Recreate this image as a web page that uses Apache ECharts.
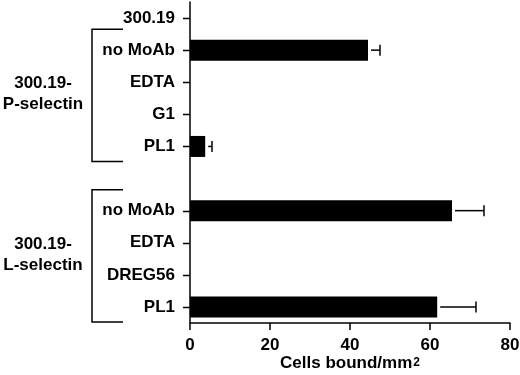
<!DOCTYPE html>
<html>
<head>
<meta charset="utf-8">
<script src="https://cdn.jsdelivr.net/npm/echarts@6/dist/echarts.min.js"></script>
<style>
html, body { margin: 0; padding: 0; background: #fff; }
#cellsBound { width: 520px; height: 375px; }
</style>
</head>
<body>
<div id="cellsBound"></div>
<script>
// 数据
var categories = ['300.19', 'no MoAb', 'EDTA', 'G1', 'PL1', '', 'no MoAb', 'EDTA', 'DREG56', 'PL1'];
var cellsBound = [0, 44.5, 0, 0, 3.8, null, 65.5, 0, 0, 61.8];
var cellsSem = [null, 3, null, null, 1.7, null, 8, null, null, 9.7];
var xTicks = [0, 20, 40, 60, 80];
var groups = [
	{ name: '300.19-\nP-selectin', from: 1, to: 4 },
	{ name: '300.19-\nL-selectin', from: 6, to: 9 }
];

var labelFont = { fontFamily: 'Liberation Sans', fontWeight: 'bold', fontSize: 17, color: '#000' };

function showCharts() {
	var myChart = echarts.init(document.getElementById('cellsBound'));
	var errData = [];
	for (var i = 0; i < categories.length; i++) {
		if (cellsSem[i] != null) {
			errData.push([cellsBound[i], i, cellsBound[i] + cellsSem[i]]);
		}
	}
	var option = {
		animation: false,
		grid: { left: 190, right: 10, top: 2, bottom: 52, containLabel: false, outerBoundsMode: 'none' },
		xAxis: {
			type: 'value',
			min: xTicks[0],
			max: xTicks[xTicks.length - 1],
			interval: xTicks[1] - xTicks[0],
			name: 'Cells bound/mm{sup|2}',
			nameLocation: 'middle',
			nameGap: 32,
			nameMoveOverlap: false,
			nameTextStyle: {
				fontFamily: 'Liberation Sans', fontWeight: 'bold', fontSize: 17, color: '#000',
				rich: { sup: { fontFamily: 'Liberation Sans', fontWeight: 'bold', fontSize: 12, color: '#000', padding: [0, 0, 1, 1] } }
			},
			axisLine: { show: true, lineStyle: { color: '#000', width: 1.5 } },
			axisTick: { show: true, length: 7, lineStyle: { color: '#000', width: 1.5 } },
			axisLabel: Object.assign({ margin: 14 }, labelFont),
			splitLine: { show: false }
		},
		yAxis: {
			type: 'category',
			inverse: true,
			data: categories,
			axisLine: { show: true, lineStyle: { color: '#000', width: 1.5 } },
			axisTick: { show: false },
			axisLabel: Object.assign({ margin: 15, interval: 0 }, labelFont)
		},
		series: [
			{
				type: 'bar',
				data: cellsBound,
				barWidth: 21,
				itemStyle: { color: '#000' }
			},
			{
				type: 'custom',
				data: errData,
				encode: { x: [0, 2], y: 1 },
				z: 3,
				renderItem: function (params, api) {
					var start = api.coord([api.value(0), api.value(1)]);
					var end = api.coord([api.value(2), api.value(1)]);
					var style = { stroke: '#000', lineWidth: 1.5 };
					return {
						type: 'group',
						children: [
							{ type: 'line', shape: { x1: start[0] + 3, y1: start[1], x2: end[0], y2: end[1] }, style: style },
							{ type: 'line', shape: { x1: end[0], y1: end[1] - 5.5, x2: end[0], y2: end[1] + 5.5 }, style: style }
						]
					};
				}
			}
		]
	};
	myChart.setOption(option);

	var elements = [];
	// y轴刻度（空行不画）
	var axisX = myChart.convertToPixel({ xAxisIndex: 0 }, 0);
	for (var k = 0; k < categories.length; k++) {
		if (categories[k] === '') continue;
		var ty = Math.round(myChart.convertToPixel({ yAxisIndex: 0 }, k)) + 0.5;
		elements.push({
			type: 'line',
			z: 100,
			shape: { x1: axisX - 7, y1: ty, x2: axisX, y2: ty },
			style: { stroke: '#000', lineWidth: 1.5 }
		});
	}
	// 分组括号
	for (var g = 0; g < groups.length; g++) {
		var top = myChart.convertToPixel({ yAxisIndex: 0 }, groups[g].from) - 21;
		var bottom = myChart.convertToPixel({ yAxisIndex: 0 }, groups[g].to) + 15;
		elements.push({
			type: 'polyline',
			shape: { points: [[123, top], [92, top], [92, bottom], [123, bottom]] },
			style: { stroke: '#000', lineWidth: 1.5, fill: null }
		});
		elements.push({
			type: 'text',
			x: 43,
			y: (top + bottom) / 2 - 1,
			style: {
				text: groups[g].name,
				fontFamily: 'Liberation Sans', fontWeight: 'bold', fontSize: 17, lineHeight: 21,
				fill: '#000', align: 'center', verticalAlign: 'middle'
			}
		});
	}
	myChart.setOption({ graphic: { elements: elements } });
}
showCharts();
</script>
</body>
</html>
